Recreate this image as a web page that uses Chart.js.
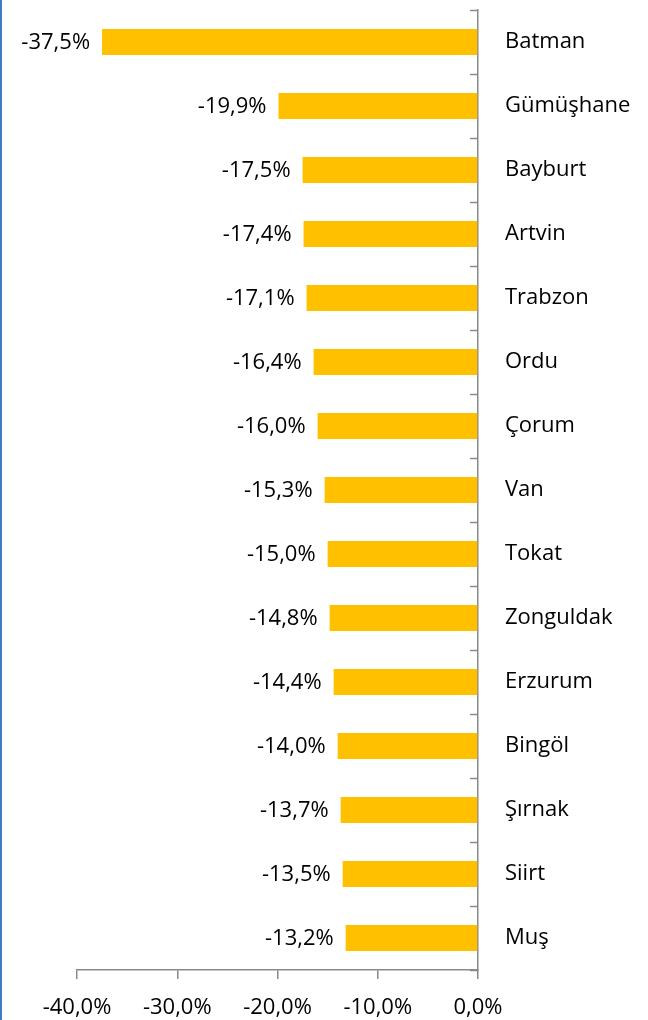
<!DOCTYPE html>
<html><head><meta charset="utf-8">
<script src="https://cdn.jsdelivr.net/npm/chart.js@4/dist/chart.umd.min.js"></script>
<style>
html,body{margin:0;padding:0;background:#fff;}
#wrap{position:relative;width:648px;height:1020px;}
#wrap:before{content:"";position:absolute;left:0;top:0;width:2px;height:1020px;background:#4279C0;z-index:2;}
canvas{display:block;}
</style></head>
<body><div id="wrap"><canvas id="c" width="648" height="1020"></canvas></div>
<script>
const categories = ["Batman","Gümüşhane","Bayburt","Artvin","Trabzon","Ordu","Çorum","Van","Tokat","Zonguldak","Erzurum","Bingöl","Şırnak","Siirt","Muş"];
const values = [-37.5,-19.9,-17.5,-17.4,-17.1,-16.4,-16.0,-15.3,-15.0,-14.8,-14.4,-14.0,-13.7,-13.5,-13.2];
const xTicks = [-40,-30,-20,-10,0];

const FONT = "'Open Sans', sans-serif";
const fmt = v => v.toFixed(1).replace('.', ',') + '%';

const labelPlugin = {
  id: 'labels',
  afterDatasetsDraw(chart) {
    const ctx = chart.ctx;
    const meta = chart.getDatasetMeta(0);
    ctx.save();
    ctx.font = "22px " + FONT;
    ctx.fillStyle = '#000';
    ctx.textAlign = 'right';
    ctx.textBaseline = 'middle';
    meta.data.forEach((bar, i) => {
      ctx.fillText(fmt(values[i]), bar.x - 12, bar.y + 1);
    });
    const ys = chart.scales.y;
    const xs = chart.scales.x;
    const x0 = xs.getPixelForValue(0);
    ctx.strokeStyle = '#898989';
    ctx.lineWidth = 1.5;
    for (let i = 0; i <= categories.length; i++) {
      const y = Math.round(ys.getPixelForValue(i - 0.5)) + 0.5;
      ctx.beginPath();
      ctx.moveTo(x0 - 8, y);
      ctx.lineTo(x0, y);
      ctx.stroke();
    }
    ctx.restore();
  }
};

new Chart(document.getElementById('c'), {
  type: 'bar',
  data: {
    labels: categories,
    datasets: [{
      data: values,
      backgroundColor: '#FFC000',
      borderWidth: 0,
      categoryPercentage: 1,
      barPercentage: 0.41
    }]
  },
  options: {
    indexAxis: 'y',
    responsive: false,
    animation: false,
    devicePixelRatio: 1,
    layout: { padding: { left: 77, top: 10, right: 0, bottom: 0 } },
    plugins: { legend: { display: false }, tooltip: { enabled: false } },
    scales: {
      x: {
        type: 'linear',
        position: 'bottom',
        min: -40, max: 0,
        afterBuildTicks(scale) { scale.ticks = xTicks.map(v => ({ value: v })); },
        afterFit(scale) { scale.height = 50; scale.paddingLeft = 0; scale.paddingRight = 0; },
        grid: { drawOnChartArea: false, drawTicks: true, tickLength: 9, color: '#898989', lineWidth: 1.5 },
        border: { display: true, color: '#898989', width: 1.5 },
        ticks: {
          font: { size: 22, family: FONT },
          color: '#000',
          padding: 16,
          maxRotation: 0,
          callback: v => fmt(v)
        }
      },
      y: {
        position: 'right',
        afterFit(scale) { scale.width = 170; scale.paddingTop = 0; scale.paddingBottom = 0; },
        grid: { drawOnChartArea: false, drawTicks: false, offset: true },
        border: { display: true, color: '#898989', width: 1.5 },
        ticks: {
          font: { size: 22, family: FONT },
          color: '#000',
          padding: 27,
          crossAlign: 'near'
        }
      }
    }
  },
  plugins: [labelPlugin]
});
</script>
</body></html>
